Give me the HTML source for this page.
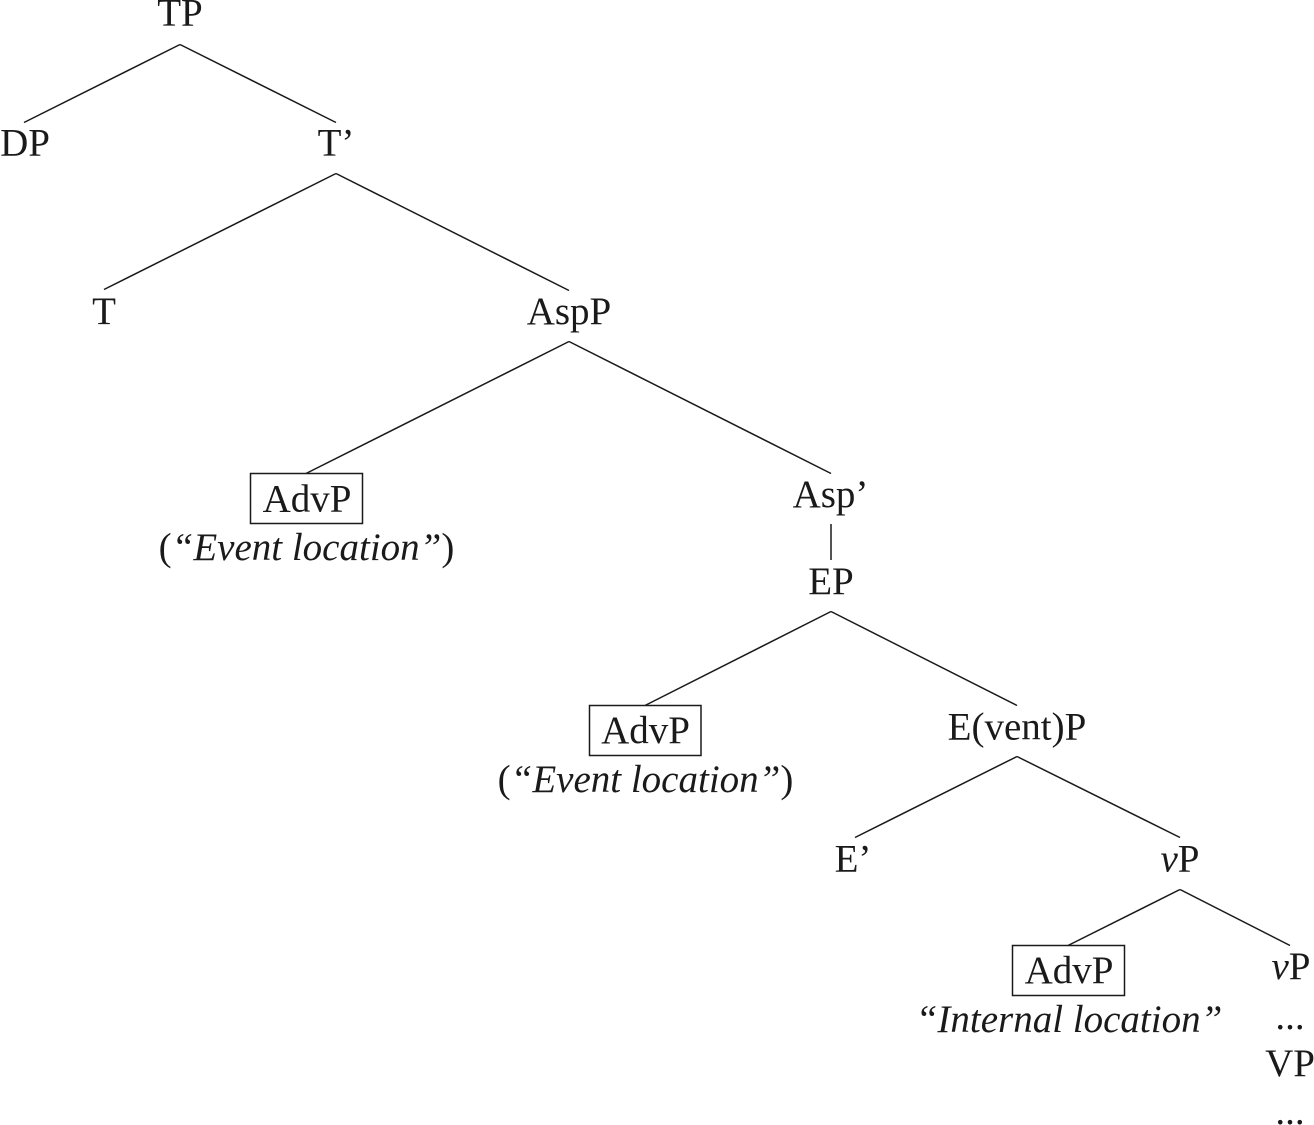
<!DOCTYPE html>
<html>
<head>
<meta charset="utf-8">
<style>
html,body{margin:0;padding:0;background:#fff;width:1314px;height:1125px;overflow:hidden}
svg{display:block}
text{font-family:"Liberation Serif",serif;font-size:39px;fill:#1a1a1a;text-anchor:middle}
.i{font-style:italic}
line,rect{stroke:#1a1a1a;stroke-width:1.5;fill:none}
</style>
</head>
<body>
<svg width="1314" height="1125" viewBox="0 0 1314 1125" xmlns="http://www.w3.org/2000/svg">
<line x1="180" y1="44.500" x2="24" y2="122.500"/>
<line x1="180" y1="44.500" x2="336" y2="122.500"/>
<line x1="336" y1="173.500" x2="104" y2="289.500"/>
<line x1="336" y1="173.500" x2="569" y2="290.500"/>
<line x1="569" y1="341.500" x2="306" y2="473.500"/>
<line x1="569" y1="341.500" x2="831" y2="473.500"/>
<line x1="831" y1="524" x2="831" y2="560"/>
<line x1="831" y1="611.500" x2="645" y2="705.500"/>
<line x1="831" y1="611.500" x2="1017" y2="705.500"/>
<line x1="1017" y1="756.500" x2="855" y2="837.500"/>
<line x1="1017" y1="756.500" x2="1180" y2="837.500"/>
<line x1="1180" y1="889.500" x2="1068" y2="945.500"/>
<line x1="1180" y1="889.500" x2="1290" y2="945.500"/>
<rect x="250.500" y="473.500" width="112" height="50"/>
<rect x="589.500" y="705.500" width="111.500" height="50"/>
<rect x="1012.500" y="945.500" width="112" height="50"/>
<text x="180" y="25.500">TP</text>
<text x="25" y="155.500">DP</text>
<text x="336" y="155.500">T’</text>
<text x="104" y="324">T</text>
<text x="569" y="324">AspP</text>
<text x="307" y="511.500">AdvP</text>
<text x="306.500" y="560">(<tspan class="i">“Event location”</tspan>)</text>
<text x="830.500" y="507">Asp’</text>
<text x="831" y="594">EP</text>
<text x="645.500" y="743">AdvP</text>
<text x="645.500" y="792">(<tspan class="i">“Event location”</tspan>)</text>
<text x="1017" y="739.500">E(vent)P</text>
<text x="853" y="871.500">E’</text>
<text x="1180" y="871.500"><tspan class="i">v</tspan>P</text>
<text x="1069" y="983">AdvP</text>
<text x="1069" y="1032" class="i">“Internal location”</text>
<text x="1291" y="979"><tspan class="i">v</tspan>P</text>
<text x="1290" y="1029">...</text>
<text x="1290" y="1076">VP</text>
<text x="1290" y="1124">...</text>
</svg>
</body>
</html>
